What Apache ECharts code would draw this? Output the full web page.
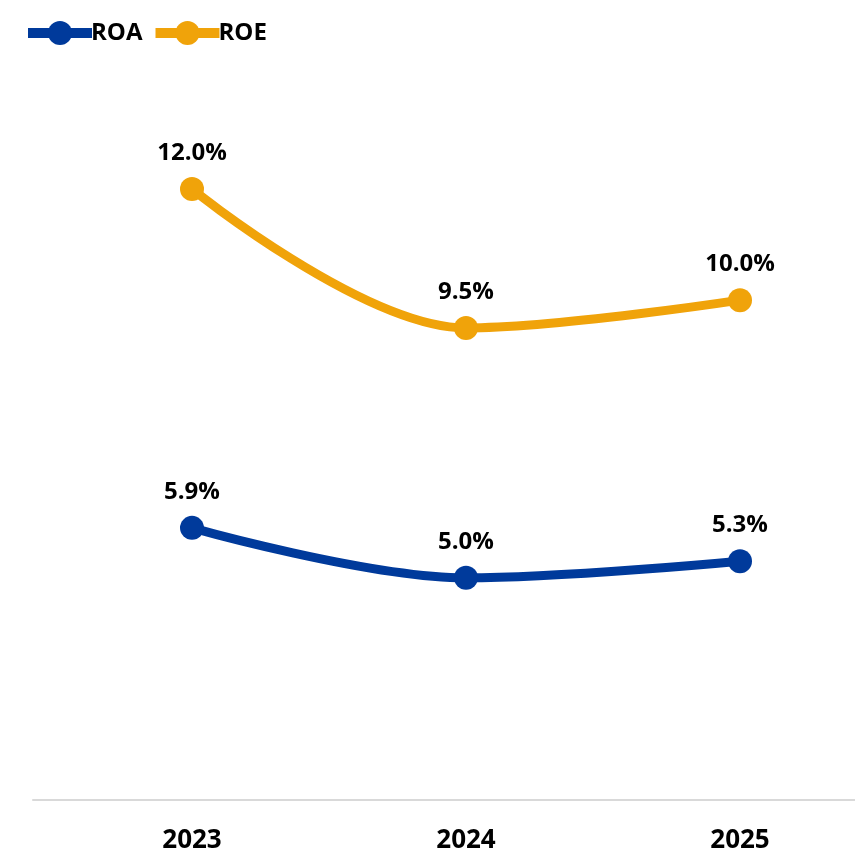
<!DOCTYPE html>
<html>
<head>
<meta charset="utf-8">
<script src="https://cdn.jsdelivr.net/npm/echarts@6/dist/echarts.min.js"></script>
<style>
  html, body { margin: 0; padding: 0; background: #fff; }
  #chart { width: 855px; height: 853px; }
</style>
</head>
<body>
<div id="chart"></div>
<script>
const years = ['2023', '2024', '2025']
const roa = [5.9, 5.0, 5.3]
const roe = [12.0, 9.5, 10.0]

const font = '"Open Sans", "Liberation Sans", sans-serif'

const myChart = echarts.init(document.getElementById('chart'))

const lineSeries = (name, data, color) => ({
  name: name,
  type: 'line',
  data: data,
  smooth: 0.35,
  symbol: 'circle',
  symbolSize: 24,
  lineStyle: { color: color, width: 9 },
  itemStyle: { color: color },
  label: {
    show: true,
    position: 'top',
    distance: 12,
    formatter: p => p.value.toFixed(1) + '%',
    color: '#000',
    fontFamily: font,
    fontWeight: 'bold',
    fontSize: 24
  }
})

const option = {
  animation: false,
  legend: {
    left: 18,
    top: 16,
    itemWidth: 64,
    itemHeight: 30,
    itemGap: 8,
    lineStyle: { width: 10 },
    textStyle: { color: '#000', fontFamily: font, fontWeight: 'bold', fontSize: 24, padding: [0, 0, 0, -6] },
    data: ['ROA', 'ROE']
  },
  grid: [
    { left: 55, width: 822, top: 78, bottom: 53, outerBoundsMode: 'none' },
    { left: 33, right: 0, top: 78, bottom: 53 }
  ],
  xAxis: [{
    type: 'category',
    gridIndex: 0,
    data: years,
    axisLine: { show: false },
    axisTick: { show: false },
    axisLabel: {
      margin: 28,
      color: '#000',
      fontFamily: font,
      fontWeight: 'bold',
      fontSize: 26
    }
  }, {
    type: 'value',
    gridIndex: 1,
    min: 0,
    max: 1,
    axisLine: { show: true, lineStyle: { color: '#d9d9d9', width: 2 } },
    axisTick: { show: false },
    axisLabel: { show: false },
    splitLine: { show: false }
  }],
  yAxis: [{
    type: 'value',
    gridIndex: 0,
    min: 1,
    max: 14,
    show: false,
    splitLine: { show: false }
  }, {
    type: 'value',
    gridIndex: 1,
    show: false,
    min: 0,
    max: 1,
    splitLine: { show: false }
  }],
  series: [
    lineSeries('ROA', roa, '#003A9B'),
    lineSeries('ROE', roe, '#F0A30A')
  ]
}

myChart.setOption(option)
</script>
</body>
</html>
